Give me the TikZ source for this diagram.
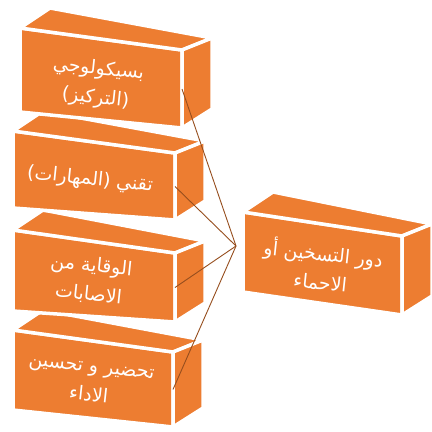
\documentclass[tikz,border=0pt]{standalone}
\usepackage{fontspec}
\newfontfamily\arabicfont[Script=Arabic]{DejaVu Sans}
\TeXXeTstate=1

\definecolor{boxorange}{RGB}{237,125,49}
\definecolor{linkbrown}{RGB}{150,78,30}

% #1 name, #2 x, #3 y, #4 width, #5 drop, #6 left height, #7 right height
\newcommand\cubebox[7]{%
  \path[face] (#2,#3) -- ({#2+#4},{#3+#5}) -- ({#2+#4},{#3+#5+#7}) -- (#2,{#3+#6}) -- cycle;
  \path[face] (#2,#3) -- ({#2+30},{#3-20}) -- ({#2+#4+30},{#3+#5-12}) -- ({#2+#4},{#3+#5}) -- cycle;
  \path[face] ({#2+#4},{#3+#5}) -- ({#2+#4+30},{#3+#5-12}) -- ({#2+#4+30},{#3+#5+#7-19}) -- ({#2+#4},{#3+#5+#7}) -- cycle;
  \coordinate (#1-e) at ({#2+#4},{#3+#5+#7/2});
}

\begin{document}
\begin{tikzpicture}[x=1pt, y=-1pt,
    face/.style={fill=boxorange, draw=white, line width=3.5pt, line join=round},
    boxtext/.style={text=white, align=center, rotate=-6,
      font=\arabicfont\fontsize{19}{29}\selectfont},
    link/.style={draw=linkbrown, line width=0.9pt}]

    \useasboundingbox (0,0) rectangle (432,432);

    \cubebox{perform}{13}{330}{160}{22}{80}{75}
    \cubebox{injury}{13}{230}{162}{23}{81}{69}
    \cubebox{skills}{13}{131}{162}{22}{77}{67}
    \cubebox{psych}{20}{28}{162}{22}{84}{78}
    \cubebox{warmup}{243}{212}{159}{24}{80}{79}

    \path node (psychtext) [boxtext] at (97,84) {\beginR بسيكولوجي\endR\\\beginR (التركيز)\endR};
    \path node (skillstext) [boxtext] at (90,180) {\beginR تقني (المهارات)\endR};
    \path node (injurytext) [boxtext] at (90,280) {\beginR الوقاية من\endR\\\beginR الاصابات\endR};
    \path node (performtext) [boxtext] at (90,382) {\beginR تحضير و تحسين\endR\\\beginR الاداء\endR};
    \path node (warmuptext) [boxtext] at (322,266) {\beginR دور التسخين أو\endR\\\beginR الاحماء\endR};

    \coordinate (hub) at (236,246);

    \draw[link] (psych-e) -- (hub);
    \draw[link] (skills-e) -- (hub);
    \draw[link] (injury-e) -- (hub);
    \draw[link] (perform-e) -- (hub);

\end{tikzpicture}
\end{document}
